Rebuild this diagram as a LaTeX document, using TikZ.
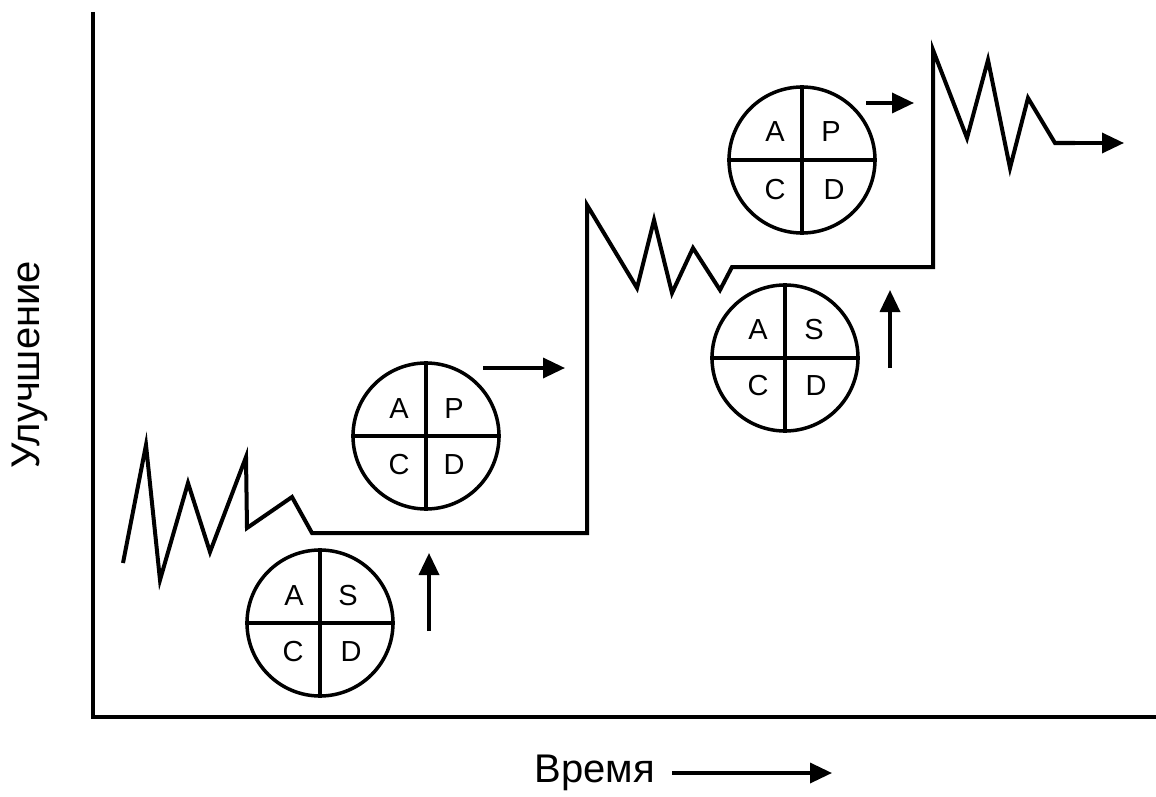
\documentclass[tikz,border=0pt]{standalone}
\usepackage{fontspec}
\setmainfont{Liberation Sans}
\usetikzlibrary{arrows.meta}
\begin{document}
\begin{tikzpicture}[x=1pt,y=-1pt,
  axis/.style={line width=4pt},
  curve/.style={line width=4pt,line join=miter,miter limit=10},
  pdca/.style={circle,draw,line width=3.5pt,minimum size=146pt,inner sep=0pt},
  cross/.style={line width=3.2pt},
  lbl/.style={font=\fontsize{29}{29}\selectfont,inner sep=0pt},
  arr/.style={line width=3.5pt,-{Triangle[length=22pt,width=20pt]}},
  title/.style={font=\fontsize{40}{40}\selectfont,inner sep=0pt}]
\useasboundingbox (0,0) rectangle (1156,797);
% axes
\coordinate (top) at (93,12);
\coordinate (orig) at (93,717);
\coordinate (xend) at (1156,717);
\draw[axis] (top) -- (orig) -- (xend);
% labels
\node[title,rotate=90] (ylab) at (30,365) {Улучшение};
\node[title,anchor=east] (xlab) at (655,773) {Время};
\coordinate (xa1) at (672,773);
\coordinate (xa2) at (832,773);
\draw[arr] (xa1) -- (xa2);
% improvement curve
\draw[curve] (123,563) -- (146,445) -- (160,580) -- (188,483) -- (210,552)
  -- (246,457) -- (247,528) -- (292,497) -- (312,533) -- (587,533)
  -- (587,205) -- (637,288) -- (654,220) -- (672,293) -- (693,248)
  -- (720,290) -- (732,267) -- (933,267) -- (933,50) -- (967,138)
  -- (988,60) -- (1010,168) -- (1028,98) -- (1055,143) -- (1075,143);
\coordinate (c1) at (1070,143);
\coordinate (c2) at (1124,143);
\draw[arr] (c1) -- (c2);
% circle 1: A S C D
\node[pdca] (s1) at (320,623) {};
\draw[cross] (s1.north) -- (s1.south);
\draw[cross] (s1.west) -- (s1.east);
\node[lbl] (s1a) at (294,596) {A};
\node[lbl] (s1s) at (348,596) {S};
\node[lbl] (s1c) at (293,652) {C};
\node[lbl] (s1d) at (351,652) {D};
\coordinate (u1a) at (429,631);
\coordinate (u1b) at (429,553);
\draw[arr] (u1a) -- (u1b);
% circle 2: A P C D
\node[pdca] (p1) at (426,436) {};
\draw[cross] (p1.north) -- (p1.south);
\draw[cross] (p1.west) -- (p1.east);
\node[lbl] (p1a) at (399,409) {A};
\node[lbl] (p1p) at (454,409) {P};
\node[lbl] (p1c) at (399,465) {C};
\node[lbl] (p1d) at (454,465) {D};
\coordinate (r1a) at (483,368);
\coordinate (r1b) at (565,368);
\draw[arr] (r1a) -- (r1b);
% circle 3: A S C D
\node[pdca] (s2) at (785,358) {};
\draw[cross] (s2.north) -- (s2.south);
\draw[cross] (s2.west) -- (s2.east);
\node[lbl] (s2a) at (758,330) {A};
\node[lbl] (s2s) at (814,330) {S};
\node[lbl] (s2c) at (758,386) {C};
\node[lbl] (s2d) at (816,386) {D};
\coordinate (u2a) at (890,368);
\coordinate (u2b) at (890,290);
\draw[arr] (u2a) -- (u2b);
% circle 4: A P C D
\node[pdca] (p2) at (802,160) {};
\draw[cross] (p2.north) -- (p2.south);
\draw[cross] (p2.west) -- (p2.east);
\node[lbl] (p2a) at (775,132) {A};
\node[lbl] (p2p) at (831,132) {P};
\node[lbl] (p2c) at (775,190) {C};
\node[lbl] (p2d) at (834,190) {D};
\coordinate (r2a) at (866,103);
\coordinate (r2b) at (914,103);
\draw[arr] (r2a) -- (r2b);
\end{tikzpicture}
\end{document}
